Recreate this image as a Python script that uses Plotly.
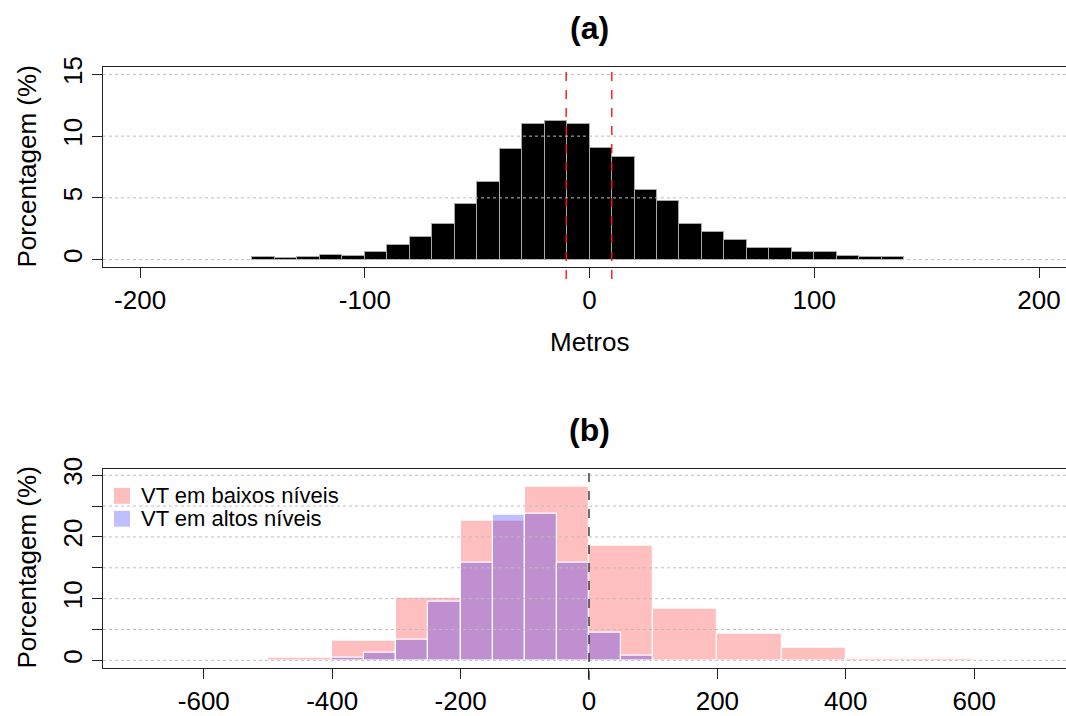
import plotly.graph_objects as go
from plotly.subplots import make_subplots

# ---- data ----
a_left_edges = list(range(-150, 140, 10))
a_values = [0.22, 0.11, 0.22, 0.40, 0.32, 0.59, 1.16, 1.80, 2.89, 4.53, 6.29, 8.94,
            10.95, 11.24, 10.95, 9.02, 8.30, 5.65, 4.71, 2.89, 2.25, 1.61, 0.96, 0.96,
            0.59, 0.59, 0.32, 0.22, 0.22]
a_binwidth = 10
a_vlines = [-10.4, 9.9]

b_low_edges = list(range(-500, 600, 100))
b_low_values = [0.37, 3.2, 10.2, 22.6, 28.2, 18.65, 8.3, 4.3, 2.1, 0.27, 0.27]
b_low_width = 100
b_high_edges = list(range(-400, 100, 50))
b_high_values = [0.37, 1.23, 3.27, 9.5, 15.8, 23.55, 23.8, 15.8, 4.5, 0.8]
b_high_width = 50

series_names = ["VT em baixos níveis", "VT em altos níveis"]
series_colors = ["rgba(255,0,0,0.25)", "rgba(0,0,255,0.25)"]

a_xticks = [-200, -100, 0, 100, 200]
a_yticks = [0, 5, 10, 15]
b_xticks = [-600, -400, -200, 0, 200, 400, 600]
b_yticks = [0, 5, 10, 15, 20, 25, 30]
b_yticktext = ["0", "", "10", "", "20", "", "30"]

FONT = "Liberation Sans, Arial, sans-serif"
W, H = 1066, 716
ML, MR, MT, MB = 103, 0, 67, 45
PH = H - MT - MB

def py(p):
    return (H - MB - p) / PH

def px(p):
    return (p - ML) / (W - ML - MR)

fig = make_subplots(rows=2, cols=1)

fig.add_trace(go.Bar(
    x=[e + a_binwidth / 2 for e in a_left_edges], y=a_values, width=a_binwidth,
    marker=dict(color="black", line=dict(color="#a8a8a8", width=1)),
    showlegend=False, hoverinfo="skip"), row=1, col=1)

fig.add_trace(go.Bar(
    x=[e + b_low_width / 2 for e in b_low_edges], y=b_low_values, width=b_low_width,
    marker=dict(color=series_colors[0], line=dict(color="white", width=1.2)),
    name=series_names[0], showlegend=False, hoverinfo="skip"), row=2, col=1)
fig.add_trace(go.Bar(
    x=[e + b_high_width / 2 for e in b_high_edges], y=b_high_values, width=b_high_width,
    marker=dict(color=series_colors[1], line=dict(color="white", width=1.2)),
    name=series_names[1], showlegend=False, hoverinfo="skip"), row=2, col=1)

axis_common = dict(showline=True, linecolor="#222", linewidth=1, ticks="outside",
                   ticklen=10, tickcolor="#222", showgrid=False, zeroline=False,
                   tickfont=dict(family=FONT, size=26, color="black"))

fig.update_xaxes(**axis_common, mirror=True)
fig.update_yaxes(**axis_common, tickangle=-90)

fig.update_xaxes(range=[-216.5, 212], tickvals=a_xticks, ticktext=[str(v) for v in a_xticks],
                 domain=[0, 1], row=1, col=1)
fig.update_yaxes(range=[-0.6, 15.6], tickvals=a_yticks, ticktext=[str(v) for v in a_yticks],
                 domain=[py(268), 1], row=1, col=1)
fig.update_xaxes(range=[-757, 743], tickvals=b_xticks, ticktext=[str(v) for v in b_xticks],
                 domain=[0, 1], row=2, col=1)
fig.update_yaxes(range=[-1.24, 31.06], tickvals=b_yticks, ticktext=b_yticktext,
                 domain=[0, py(470.7)], row=2, col=1)

shapes = []
# dotted horizontal grid lines drawn over the bars
for v in a_yticks:
    shapes.append(dict(type="line", xref="x domain", yref="y", x0=0, x1=1, y0=v, y1=v,
                       line=dict(color="#bdbdbd", width=1, dash="dot"), layer="above"))
for v in b_yticks:
    shapes.append(dict(type="line", xref="x2 domain", yref="y2", x0=0, x1=1, y0=v, y1=v,
                       line=dict(color="#bdbdbd", width=1, dash="dot"), layer="above"))
for v in a_vlines:
    shapes.append(dict(type="line", xref="x", yref="y domain", x0=v, x1=v, y0=-0.06, y1=0.985,
                       line=dict(color="#ff0000", width=1.3, dash="dash"), layer="above"))
shapes.append(dict(type="line", xref="x2", yref="y2 domain", x0=0, x1=0, y0=-0.06, y1=0.985,
                   line=dict(color="#222", width=1.3, dash="dash"), layer="above"))

def ann(text, xp, yp, size, angle=0, xanchor="center"):
    return dict(text=text, x=px(xp), y=py(yp), xref="paper", yref="paper",
                xanchor=xanchor, yanchor="middle", showarrow=False, textangle=angle,
                font=dict(family=FONT, size=size, color="black"))

annotations = [
    ann("<b>(a)</b>", 589, 28, 32),
    ann("<b>(b)</b>", 589, 432, 32),
    ann("Metros", 589, 343, 26),
    ann("Porcentagem (%)", 27, 167, 26, -90),
    ann("Porcentagem (%)", 27, 570, 26, -90),
]

# legend (drawn as swatch + label)
legend_rows = [498, 521]
for name, color, yc in zip(series_names, series_colors, legend_rows):
    shapes.append(dict(type="rect", xref="paper", yref="paper",
                       x0=px(114), x1=px(130), y0=py(yc + 8), y1=py(yc - 8),
                       fillcolor=color, line=dict(width=0), layer="above"))
    annotations.append(ann(name, 139, yc, 22, xanchor="left"))

fig.update_layout(
    width=W, height=H, margin=dict(l=ML, r=MR, t=MT, b=MB),
    paper_bgcolor="white", plot_bgcolor="white", barmode="overlay", bargap=0,
    shapes=shapes, annotations=annotations, showlegend=False,
    font=dict(family=FONT, color="black"),
)

fig.write_html("out.html")
